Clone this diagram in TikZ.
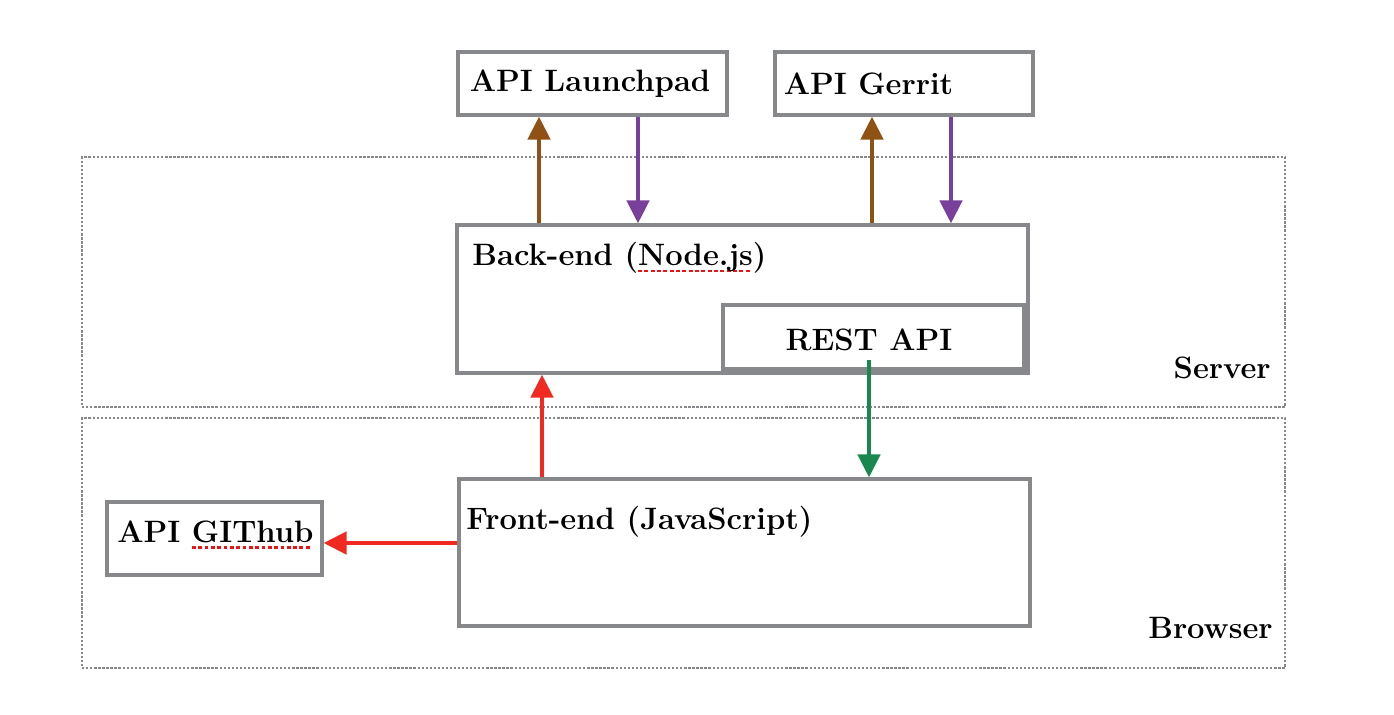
\documentclass[tikz,border=0pt]{standalone}
\usepackage{tikz}
\usetikzlibrary{arrows.meta}
\definecolor{boxgray}{RGB}{135,136,140}
\definecolor{callbrown}{RGB}{144,82,20}
\definecolor{callpurple}{RGB}{120,64,155}
\definecolor{callred}{RGB}{240,42,32}
\definecolor{callgreen}{RGB}{24,136,80}
\definecolor{spellred}{RGB}{235,20,20}
\newcommand\spellmark[1]{\setbox0\hbox{#1}\rlap{\textcolor{spellred}{\raisebox{-3.8pt}{\leaders\hbox{\rule{2.2pt}{1.6pt}\hspace{1.4pt}}\hskip\wd0}}}\box0}

\begin{document}
\begin{tikzpicture}[x=0.02cm,y=-0.02cm]
	\tikzstyle{region}=[draw=boxgray,line width=1.4pt,dash pattern=on 1.3pt off 1.0pt,inner sep=0pt]
	\tikzstyle{apibox}=[draw=boxgray,line width=1.8pt,rectangle,inner sep=0pt]
	\tikzstyle{lbl}=[inner sep=0pt,font=\fontsize{17.6}{20}\selectfont\bfseries]
	\tikzstyle{flow}=[line width=2.6pt,-{Triangle[length=0.46cm,width=0.44cm]}]
	\useasboundingbox (0,0) rectangle (1394,714);
	% regions
	\node[region,minimum width=24.06cm,minimum height=5cm] (server) at (683.5,282) {};
	\node[region,minimum width=24.06cm,minimum height=5cm] (browser) at (683.5,543) {};
	\node[lbl,anchor=east] (servertxt) at (1271,368) {Server};
	\node[lbl,anchor=east] (browsertxt) at (1273,628) {Browser};
	% boxes
	\node[apibox,minimum width=5.38cm,minimum height=1.26cm] (launch) at (592.5,83.5) {};
	\node[apibox,minimum width=5.16cm,minimum height=1.26cm] (gerrit) at (904,83.5) {};
	\node[apibox,minimum width=11.42cm,minimum height=2.96cm] (backend) at (742.5,299) {};
	\node[apibox,minimum width=6.02cm,minimum height=1.28cm] (rest) at (873.5,337) {};
	\node[apibox,minimum width=11.42cm,minimum height=2.94cm] (frontend) at (744.5,552.5) {};
	\node[apibox,minimum width=4.3cm,minimum height=1.46cm] (github) at (214.5,538.5) {};
	% texts
	\node[lbl,anchor=west] (launchtxt) at ([xshift=0.26cm]launch.west) {API Launchpad};
	\node[lbl,anchor=west] (gerrittxt) at ([xshift=0.2cm]gerrit.west) {API Gerrit};
	\node[lbl,anchor=west] (backendtxt) at (472,258) {Back-end (\spellmark{Node.js})};
	\node[lbl] (resttxt) at (869,340) {REST API};
	\node[lbl,anchor=west] (frontendtxt) at (466,522) {Front-end (JavaScript)};
	\node[lbl,anchor=west] (githubtxt) at (117,535) {API \spellmark{GIThub}};
	% arrows
	\coordinate (lpup) at (539,0);
	\coordinate (lpdown) at (638,0);
	\coordinate (grup) at (872,0);
	\coordinate (grdown) at (951,0);
	\coordinate (feup) at (542,0);
	\coordinate (restdown) at (869,0);
	\coordinate (ghleft) at (0,543);
	\draw[flow,callbrown] (lpup |- backend.north) -- (lpup |- launch.south);
	\draw[flow,callpurple] (lpdown |- launch.south) -- (lpdown |- backend.north);
	\draw[flow,callbrown] (grup |- backend.north) -- (grup |- gerrit.south);
	\draw[flow,callpurple] (grdown |- gerrit.south) -- (grdown |- backend.north);
	\draw[flow,callred] (feup |- frontend.north) -- (feup |- backend.south);
	\draw[flow,callgreen,shorten <=-0.22cm] (restdown |- rest.south) -- (restdown |- frontend.north);
	\draw[flow,callred] (frontend.west |- ghleft) -- (github.east |- ghleft);
\end{tikzpicture}
\end{document}
